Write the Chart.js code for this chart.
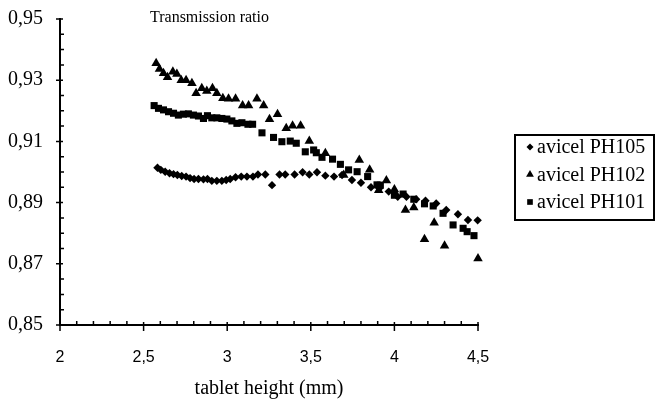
<!DOCTYPE html>
<html>
<head>
<meta charset="utf-8">
<script src="https://cdn.jsdelivr.net/npm/chart.js@4.4.0/dist/chart.umd.min.js"></script>
<style>
    html, body { margin: 0; padding: 0; background: #fff; }
</style>
</head>
<body>
<canvas id="chart" width="655" height="401"></canvas>
<script>
// Axis ranges and tick values
const xTickValues = [2, 2.5, 3, 3.5, 4, 4.5];
const yTickValues = [0.85, 0.87, 0.89, 0.91, 0.93, 0.95];
const xMinorStep = 0.1;
const yMinorStep = 0.005;

// avicel PH105 (diamonds)
const ph105X = [2.583, 2.603, 2.629, 2.655, 2.679, 2.702, 2.728, 2.754, 2.778, 2.802, 2.828, 2.858,
    2.882, 2.908, 2.938, 2.968, 2.994, 3.018, 3.050, 3.084, 3.118, 3.154, 3.184, 3.228,
    3.268, 3.313, 3.347, 3.403, 3.451, 3.491, 3.537, 3.587, 3.639, 3.687, 3.746, 3.800,
    3.860, 3.910, 3.966, 4.020, 4.072, 4.130, 4.186, 4.250, 4.310, 4.380, 4.440, 4.498];
const ph105Y = [0.9014, 0.9007, 0.9001, 0.8996, 0.8993, 0.8990, 0.8987, 0.8985, 0.8980, 0.8977, 0.8977, 0.8976,
    0.8977, 0.8971, 0.8971, 0.8971, 0.8974, 0.8977, 0.8983, 0.8985, 0.8985, 0.8985, 0.8992, 0.8992,
    0.8957, 0.8992, 0.8992, 0.8992, 0.8999, 0.8992, 0.8999, 0.8988, 0.8985, 0.8990, 0.8974, 0.8965,
    0.8950, 0.8947, 0.8936, 0.8919, 0.8919, 0.8911, 0.8906, 0.8897, 0.8876, 0.8862, 0.8843, 0.8842];

// avicel PH102 (triangles)
const ph102X = [2.575, 2.595, 2.619, 2.643, 2.675, 2.699, 2.725, 2.754, 2.789, 2.814, 2.848, 2.878,
    2.912, 2.938, 2.974, 3.008, 3.050, 3.092, 3.128, 3.178, 3.218, 3.253, 3.301, 3.353,
    3.391, 3.439, 3.491, 3.587, 3.697, 3.790, 3.852, 3.906, 3.952, 4.000, 4.066, 4.116,
    4.180, 4.238, 4.300, 4.500];
const ph102Y = [0.9355, 0.9337, 0.9323, 0.9310, 0.9328, 0.9320, 0.9300, 0.9300, 0.9290, 0.9257, 0.9274, 0.9265,
    0.9274, 0.9257, 0.9241, 0.9239, 0.9239, 0.9217, 0.9217, 0.9239, 0.9217, 0.9172, 0.9189, 0.9143,
    0.9151, 0.9151, 0.9101, 0.9061, 0.8990, 0.9039, 0.9007, 0.8940, 0.8972, 0.8943, 0.8876, 0.8884,
    0.8780, 0.8834, 0.8759, 0.8717];

// avicel PH101 (squares)
const ph101X = [2.563, 2.589, 2.619, 2.649, 2.679, 2.708, 2.738, 2.768, 2.798, 2.828, 2.858, 2.882,
    2.908, 2.938, 2.968, 2.998, 3.028, 3.058, 3.088, 3.124, 3.152, 3.208, 3.277, 3.327,
    3.377, 3.413, 3.467, 3.517, 3.533, 3.567, 3.630, 3.677, 3.726, 3.777, 3.840, 3.896,
    3.916, 4.000, 4.052, 4.116, 4.180, 4.232, 4.291, 4.351, 4.411, 4.435, 4.476];
const ph101Y = [0.9217, 0.9208, 0.9203, 0.9197, 0.9192, 0.9186, 0.9189, 0.9190, 0.9186, 0.9183, 0.9175, 0.9184,
    0.9177, 0.9177, 0.9175, 0.9173, 0.9167, 0.9159, 0.9161, 0.9156, 0.9156, 0.9128, 0.9113, 0.9099,
    0.9101, 0.9094, 0.9066, 0.9072, 0.9063, 0.9048, 0.9042, 0.9025, 0.9007, 0.9001, 0.8985, 0.8958,
    0.8957, 0.8924, 0.8928, 0.8911, 0.8896, 0.8889, 0.8865, 0.8827, 0.8816, 0.8805, 0.8792];

const seriesLabels = ['avicel PH105', 'avicel PH102', 'avicel PH101'];

const serif = '"Liberation Serif", "Times New Roman", serif';
const comma = (v, d) => v.toFixed(d).replace('.', ',');

function toPoints(xs, ys) {
    return xs.map((x, i) => ({ x: x, y: ys[i] }));
}

// Ticks crossing the axes, with minor ticks in between
const axisTicks = {
    id: 'axisTicks',
    afterDraw(chart) {
        const ctx = chart.ctx;
        const xs = chart.scales.x;
        const ys = chart.scales.y;
        const bottom = ys.getPixelForValue(ys.min);
        const left = xs.getPixelForValue(xs.min);
        ctx.save();
        ctx.strokeStyle = '#000';
        ctx.lineWidth = 1.5;
        ctx.beginPath();
        const nx = Math.round((xs.max - xs.min) / xMinorStep);
        for (let i = 0; i <= nx; i++) {
            const px = xs.getPixelForValue(xs.min + i * xMinorStep);
            const major = i % 5 === 0;
            ctx.moveTo(px, bottom - (major ? 3 : 4));
            ctx.lineTo(px, bottom + (major ? 6 : 0));
        }
        const ny = Math.round((ys.max - ys.min) / yMinorStep);
        for (let i = 0; i <= ny; i++) {
            const py = ys.getPixelForValue(ys.min + i * yMinorStep);
            const major = i % 4 === 0;
            ctx.moveTo(left - (major ? 4 : 0), py);
            ctx.lineTo(left + (major ? 3 : 4), py);
        }
        ctx.stroke();
        ctx.restore();
    }
};

// Title in the top left and boxed legend on the right
const decorations = {
    id: 'decorations',
    afterDraw(chart) {
        const ctx = chart.ctx;
        ctx.save();
        ctx.fillStyle = '#000';
        ctx.font = '16px ' + serif;
        ctx.textBaseline = 'middle';
        ctx.fillText('Transmission ratio', 150, 18);

        ctx.lineWidth = 2;
        ctx.strokeStyle = '#000';
        ctx.strokeRect(515, 135, 139, 85);
        ctx.font = '20px ' + serif;
        const legendRadius = [3.5, 4.5, 4];
        chart.data.datasets.forEach((ds, i) => {
            const y = 147 + i * 27.5;
            ctx.fillStyle = '#000';
            Chart.helpers.drawPoint(ctx, { pointStyle: ds.pointStyle, radius: legendRadius[i], rotation: 0, borderWidth: 0 }, 530, y);
            ctx.fillText(ds.label, 537, y + 1);
        });
        ctx.restore();
    }
};

const ctx = document.getElementById('chart').getContext('2d');
new Chart(ctx, {
    type: 'scatter',
    data: {
        datasets: [
            { label: seriesLabels[0], data: toPoints(ph105X, ph105Y), pointStyle: 'rectRot', pointRadius: 4.2 },
            { label: seriesLabels[1], data: toPoints(ph102X, ph102Y), pointStyle: 'triangle', pointRadius: 5.5 },
            { label: seriesLabels[2], data: toPoints(ph101X, ph101Y), pointStyle: 'rect', pointRadius: 5 },
        ].map((ds) => ({ ...ds, backgroundColor: '#000', borderColor: '#000', borderWidth: 0, clip: false })),
    },
    options: {
        responsive: false,
        animation: false,
        layout: { padding: { top: 19, right: 177, left: 0, bottom: 0 } },
        plugins: {
            legend: { display: false },
            tooltip: { enabled: false },
        },
        scales: {
            x: {
                type: 'linear',
                min: 2,
                max: 4.5,
                afterBuildTicks: (scale) => { scale.ticks = xTickValues.map((v) => ({ value: v })); },
                afterFit: (scale) => { scale.height = 76; },
                grid: { display: false, drawTicks: false },
                border: { display: true, color: '#000', width: 2 },
                ticks: {
                    padding: 23,
                    color: '#000',
                    maxRotation: 0,
                    font: { family: '"Liberation Sans", Arial, sans-serif', size: 16 },
                    callback: (v) => (Number.isInteger(v) ? String(v) : comma(v, 1)),
                },
                title: {
                    display: true,
                    text: 'tablet height (mm)',
                    color: '#000',
                    font: { family: serif, size: 20 },
                    padding: { top: 0, bottom: 0 },
                },
            },
            y: {
                type: 'linear',
                min: 0.85,
                max: 0.95,
                afterBuildTicks: (scale) => { scale.ticks = yTickValues.map((v) => ({ value: v })); },
                afterFit: (scale) => {
                    scale.width = 60;
                    scale.paddingTop = 0;
                    scale.paddingBottom = 0;
                },
                grid: { display: false, drawTicks: false },
                border: { display: true, color: '#000', width: 2 },
                ticks: {
                    padding: 17,
                    color: '#000',
                    font: { family: serif, size: 20 },
                    callback: (v) => comma(v, 2),
                },
            },
        },
    },
    plugins: [axisTicks, decorations],
});
</script>
</body>
</html>
